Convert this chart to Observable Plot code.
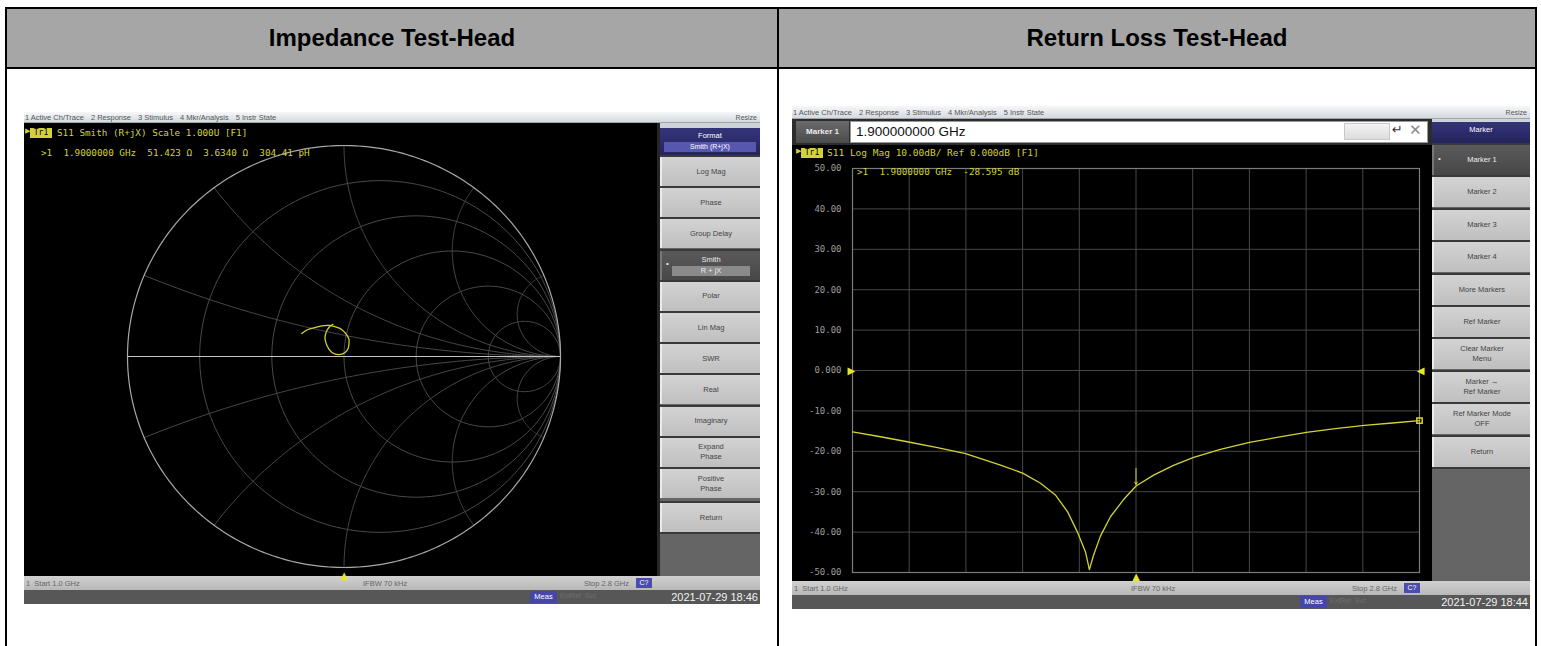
<!DOCTYPE html>
<html><head><meta charset="utf-8">
<script src="https://cdn.jsdelivr.net/npm/d3@7"></script>
<script src="https://cdn.jsdelivr.net/npm/@observablehq/plot@0.6"></script>
<style>
html,body{margin:0;padding:0;background:#fff;}
body{width:1541px;height:646px;overflow:hidden;position:relative;font-family:"Liberation Sans",Arial,sans-serif;}
.mono{font-family:"DejaVu Sans Mono",monospace;}
</style></head><body>
<script>
// ---------- data ----------
const headers = ["Impedance Test-Head", "Return Loss Test-Head"];
const menuItems = ["1 Active Ch/Trace", "2 Response", "3 Stimulus", "4 Mkr/Analysis", "5 Instr State"];
const smithKeys = [["Log Mag"],["Phase"],["Group Delay"],["Smith","R + jX"],["Polar"],["Lin Mag"],["SWR"],["Real"],["Imaginary"],["Expand","Phase"],["Positive","Phase"],["Return"]];
const markerKeys = [["Marker 1"],["Marker 2"],["Marker 3"],["Marker 4"],["More Markers"],["Ref Marker"],["Clear Marker","Menu"],["Marker \u2192","Ref Marker"],["Ref Marker Mode","OFF"],["Return"]];

// Smith chart grid values (normalized)
const resistances = [0.2, 0.5, 1, 2, 5];
const reactances = [0.2, 0.5, 1, 2, 5];
// S11 trace on Smith chart (reflection coefficient)
const gammaRe = [-0.195,-0.167,-0.135,-0.102,-0.070,-0.042,-0.019,0.000,0.014,0.023,0.023,0.019,0.005,-0.023,-0.056,-0.079,-0.088,-0.079,-0.065,-0.051];
const gammaIm = [0.109,0.128,0.137,0.145,0.147,0.142,0.133,0.118,0.100,0.081,0.062,0.038,0.019,0.009,0.019,0.052,0.090,0.123,0.142,0.152];
const smithMarkerRe = [0.015], smithMarkerIm = [0.036];

// Return loss trace
const freqGHz = [1.000,1.089,1.178,1.270,1.359,1.470,1.540,1.597,1.644,1.683,1.714,1.740,1.752,1.765,1.787,1.819,1.860,1.900,1.956,2.019,2.083,2.168,2.260,2.352,2.441,2.533,2.625,2.714,2.800];
const s11dB = [-15.2,-16.4,-17.7,-19.1,-20.6,-23.4,-25.4,-27.9,-30.8,-35.0,-40.0,-45.0,-49.3,-45.8,-41.0,-36.2,-32.0,-28.6,-25.9,-23.5,-21.5,-19.5,-17.8,-16.5,-15.3,-14.4,-13.6,-13.0,-12.4];
const freqGrid = [1.0,1.18,1.36,1.54,1.72,1.9,2.08,2.26,2.44,2.62,2.8];
const dbTicks = [50,40,30,20,10,0,-10,-20,-30,-40,-50];
const dbLabels = ["50.00","40.00","30.00","20.00","10.00","0.000","-10.00","-20.00","-30.00","-40.00","-50.00"];
const markerFreq = [1.9], markerDb = [-28.595];

// ---------- helpers ----------
function el(css, html, parent) {
  const e = document.createElement("div");
  e.style.cssText = "position:absolute;box-sizing:border-box;" + css;
  if (html != null) e.innerHTML = html;
  (parent || document.body).appendChild(e);
  return e;
}
const YEL = "#d2d236";

// ---------- table ----------
el("left:7px;top:9px;width:1528px;height:58px;background:#a6a6a6");
el("left:5px;top:7px;width:1532px;height:2px;background:#000");
el("left:5px;top:67px;width:1532px;height:2px;background:#000");
el("left:5px;top:7px;width:2px;height:639px;background:#000");
el("left:1535px;top:7px;width:2px;height:639px;background:#000");
el("left:777px;top:7px;width:2px;height:639px;background:#000");
el("left:7px;top:9px;width:770px;height:58px;display:flex;align-items:center;justify-content:center;font:bold 24px 'Liberation Sans',Arial;color:#000", headers[0]);
el("left:779px;top:9px;width:756px;height:58px;display:flex;align-items:center;justify-content:center;font:bold 24px 'Liberation Sans',Arial;color:#000", headers[1]);

// ---------- VNA chrome ----------
function menuBar(x, y, w, h) {
  const m = el(`left:${x}px;top:${y}px;width:${w}px;height:${h}px;background:linear-gradient(#f6f7f9,#d5dae0);border-bottom:1px solid #9aa;`);
  el(`left:1px;top:0;height:${h}px;display:flex;gap:7px;align-items:center;font:7.5px 'Liberation Sans';color:#555;white-space:nowrap`, menuItems.map(t => `<span>${t}</span>`).join(""), m);
  el(`right:3px;top:0;height:${h}px;display:flex;align-items:center;font:7px 'Liberation Sans';color:#555`, "Resize", m);
}
function softkeys(x, y, w, header, sub, keys, selIndex, pitch, kh, bottomY, extraLastGap) {
  // column background
  el(`left:${x}px;top:${y}px;width:${w}px;height:${bottomY - y}px;background:#656565`);
  const hh = sub ? 27 : 21;
  const hd = el(`left:${x}px;top:${y}px;width:${w}px;height:${hh}px;background:linear-gradient(#34347a,#24245e);color:#fff;font:7.5px 'Liberation Sans';text-align:center;padding-top:3px`, header);
  if (sub) el(`left:4px;top:14px;width:${w - 8}px;height:10px;background:#5757b0;color:#fff;font:7px 'Liberation Sans';text-align:center;line-height:10px`, sub, hd);
  let ky = y + hh + 2;
  keys.forEach((k, i) => {
    if (i === keys.length - 1 && extraLastGap) ky += extraLastGap;
    const sel = i === selIndex;
    el(`left:${x}px;top:${ky - 2}px;width:${w}px;height:2px;background:#3a3a3a`);
    const b = el(`left:${x}px;top:${ky}px;width:${w}px;height:${kh}px;background:${sel ? "linear-gradient(#5a5a5a,#474747)" : "linear-gradient(#d3d3d3,#bfbfbf)"};border-left:2px solid ${sel ? "#777" : "#ececec"};color:${sel ? "#eee" : "#444"};font:7.5px 'Liberation Sans';display:flex;flex-direction:column;align-items:center;justify-content:center;line-height:10px;text-align:center`,
      k.length === 2 && sel ? `<span>${k[0]}</span><span style="background:#8a8a8a;width:80%;margin-top:1px">${k[1]}</span>` : k.map(t => `<span>${t}</span>`).join(""));
    if (sel) el(`left:4px;top:${kh/2 - 6}px;font:8px 'Liberation Sans';color:#eee`, "\u2022", b);
    ky += pitch;
  });
  el(`left:${x}px;top:${ky - 2}px;width:${w}px;height:2px;background:#3a3a3a`);
}
function statusBar(x, y, w, stopX) {
  const s = el(`left:${x}px;top:${y}px;width:${w}px;height:14px;background:linear-gradient(#d0d0d0,#b8b8b8);font:7.5px 'Liberation Sans';color:#666`);
  el(`left:2px;top:3px;white-space:nowrap`, "1 &nbsp;Start 1.0 GHz", s);
  el(`left:${Math.round(w * 0.46)}px;top:3px;white-space:nowrap`, "IFBW 70 kHz", s);
  el(`left:${stopX}px;top:3px;white-space:nowrap`, "Stop 2.8 GHz", s);
  el(`left:${stopX + 52}px;top:2px;width:16px;height:10px;background:#4b4bb0;color:#fff;font:7px 'Liberation Sans';text-align:center;line-height:10px`, "C?", s);
}
function bottomBar(x, y, w, measX, date) {
  const b = el(`left:${x}px;top:${y}px;width:${w}px;height:14px;background:#575757`);
  el(`left:${measX}px;top:1px;width:27px;height:12px;background:#4646a6;color:#fff;font:7.5px 'Liberation Sans';text-align:center;line-height:12px`, "Meas", b);
  el(`left:${measX + 30}px;top:2px;font:7px 'Liberation Sans';color:#6e6e6e;white-space:nowrap`, "ExtRef &nbsp;Svc", b);
  el(`right:2px;top:0px;font:11px 'Liberation Sans';color:#f2f2f2;line-height:14px;white-space:nowrap`, date, b);
}

// ---------- Left panel: Smith chart ----------
menuBar(24, 112, 736, 11);
el("left:24px;top:123px;width:636px;height:453px;background:#000");
el("left:657px;top:123px;width:3px;height:453px;background:#262626");
softkeys(660, 128, 100, "Format", "Smith (R+jX)", smithKeys, 3, 31.2, 29, 576, 3);
el("left:660px;top:123px;width:100px;height:5px;background:#cfd3d8");
statusBar(24, 576, 736, 560);
bottomBar(24, 590, 736, 506, "2021-07-29 18:46");

// Smith grid
function smithGrid() {
  const rows = [];
  const angles = d3.range(0, 361, 2);
  resistances.forEach(r => {
    const c = r / (1 + r), rad = 1 / (1 + r);
    angles.forEach(a => rows.push({re: c + rad * Math.cos(a * Math.PI / 180), im: rad * Math.sin(a * Math.PI / 180), g: "r" + r}));
  });
  const rs = d3.range(0, 1.0001, 0.005).map(t => Math.tan(t * Math.PI / 2 * 0.9995));
  reactances.forEach(xv => [xv, -xv].forEach(X => {
    rs.forEach(R => {
      const den = (R + 1) * (R + 1) + X * X;
      rows.push({re: (R * R - 1 + X * X) / den, im: 2 * X / den, g: "x" + X});
    });
  }));
  return rows;
}
const outer = d3.range(0, 361, 1).map(a => ({re: Math.cos(a * Math.PI / 180), im: Math.sin(a * Math.PI / 180)}));
const smithTrace = gammaRe.map((re, i) => ({re, im: gammaIm[i]}));

const smith = Plot.plot({
  width: 633, height: 452,
  marginLeft: 103, marginRight: 97, marginTop: 22, marginBottom: 8,
  x: {domain: [-1, 1], axis: null},
  y: {domain: [-1, 1], axis: null},
  style: {background: "#000", overflow: "visible"},
  marks: [
    Plot.line(smithGrid(), {x: "re", y: "im", z: "g", stroke: "#4a4a4a", strokeWidth: 1}),
    Plot.line(outer, {x: "re", y: "im", stroke: "#a8a8a8", strokeWidth: 1.2}),
    Plot.ruleY([0], {x1: -1, x2: 1, stroke: "#c4c4c4", strokeWidth: 1.2}),
    Plot.line(smithTrace, {x: "re", y: "im", stroke: YEL, strokeWidth: 1.3, curve: "catmull-rom"}),
    Plot.text([0], {x: d => d, y: () => -1, dy: 8, text: () => "\u25B2", fill: "#e6e62a", fontSize: 10, fontFamily: "DejaVu Sans"})
  ]
});
el("left:24px;top:123px;width:633px;height:452px;", null).appendChild(smith);

// trace header texts (left)
el(`left:25px;top:127px;font:7px 'DejaVu Sans';color:${YEL}`, "\u25B6");
el(`left:30px;top:128px;width:22px;height:10px;background:${YEL};color:#000;font:8px 'DejaVu Sans Mono';line-height:10px;text-align:center`, "Tr1");
el(`left:57px;top:127px;font:9.3px 'DejaVu Sans Mono';color:${YEL};white-space:pre`, "S11 Smith (R+jX) Scale 1.000U [F1]");
el(`left:41px;top:147px;font:9.3px 'DejaVu Sans Mono';color:${YEL};white-space:pre`, ">1  1.9000000 GHz  51.423 \u03A9  3.6340 \u03A9  304.41 pH");

// ---------- Right panel: Log Mag ----------
menuBar(792, 106, 738, 13);
el("left:792px;top:119px;width:640px;height:26px;background:#2c2c2c");
el("left:796px;top:121px;width:53px;height:22px;background:linear-gradient(#6a6a6a,#4c4c4c);color:#eee;font:bold 8px 'Liberation Sans';line-height:22px;text-align:center", "Marker 1");
el("left:850px;top:121px;width:578px;height:22px;background:#fff;border:1px solid #999;color:#111;font:13.5px 'Liberation Sans';line-height:20px;padding-left:5px", "1.900000000 GHz");
el("left:1344px;top:123px;width:46px;height:17px;background:linear-gradient(#f4f4f4,#dcdcdc);border:1px solid #c8c8c8");
el("left:1392px;top:122px;font:13px 'DejaVu Sans';color:#333", "\u21B5");
el("left:1409px;top:121px;font:15px 'DejaVu Sans';color:#888", "\u2715");
el("left:792px;top:145px;width:640px;height:436px;background:#000");
softkeys(1432, 122, 98, "Marker", null, markerKeys, 0, 32.4, 30, 581, 0);
el("left:1432px;top:119px;width:98px;height:3px;background:#cfd3d8");
statusBar(792, 581, 738, 1352 - 792);
bottomBar(792, 595, 738, 508, "2021-07-29 18:44");

const rl = freqGHz.map((f, i) => ({f, db: s11dB[i]}));
const logmag = Plot.plot({
  width: 636, height: 435,
  marginLeft: 60, marginRight: 9, marginTop: 23, marginBottom: 8,
  x: {domain: [1.0, 2.8], axis: null},
  y: {domain: [-50, 50], axis: null},
  style: {background: "#000", overflow: "visible"},
  marks: [
    Plot.ruleX(freqGrid, {stroke: "#474747", strokeWidth: 1}),
    Plot.ruleY(dbTicks, {stroke: "#474747", strokeWidth: 1}),
    Plot.frame({stroke: "#7c7c7c", strokeWidth: 1.2}),
    Plot.text(dbTicks, {y: d => d, frameAnchor: "left", dx: -11, textAnchor: "end", text: (d, i) => dbLabels[i], fill: "#9c9c9c", fontSize: 9, fontFamily: "DejaVu Sans Mono"}),
    Plot.text([0], {y: d => d, frameAnchor: "left", dx: -5, text: () => "\u25B6", fill: "#e6e62a", fontSize: 10, fontFamily: "DejaVu Sans"}),
    Plot.text([0], {y: d => d, frameAnchor: "right", dx: 5, text: () => "\u25C0", fill: "#e6e62a", fontSize: 10, fontFamily: "DejaVu Sans"}),
    Plot.line(rl, {x: "f", y: "db", stroke: YEL, strokeWidth: 1.3}),
    Plot.dot([rl[rl.length - 1]], {x: "f", y: "db", symbol: "square", r: 3, stroke: YEL, fill: "none"}),
    Plot.arrow(markerFreq, {x1: d => d, x2: d => d, y1: (d, i) => markerDb[i] + 4.4, y2: (d, i) => markerDb[i] + 0.4, stroke: YEL, strokeWidth: 1, headLength: 4}),
    Plot.text(markerFreq, {x: d => d, frameAnchor: "bottom", dy: 7, text: () => "\u25B2", fill: "#e6e62a", fontSize: 10, fontFamily: "DejaVu Sans"})
  ]
});
el("left:792px;top:145px;width:636px;height:435px;", null).appendChild(logmag);

el(`left:796px;top:147px;font:7px 'DejaVu Sans';color:${YEL}`, "\u25B6");
el(`left:801px;top:148px;width:22px;height:10px;background:${YEL};color:#000;font:8px 'DejaVu Sans Mono';line-height:10px;text-align:center`, "Tr1");
el(`left:827px;top:147px;font:9.5px 'DejaVu Sans Mono';color:${YEL};white-space:pre`, "S11 Log Mag 10.00dB/ Ref 0.000dB [F1]");
el(`left:857px;top:166px;font:9.3px 'DejaVu Sans Mono';color:${YEL};white-space:pre`, ">1  1.9000000 GHz  -28.595 dB");
</script>
</body></html>
